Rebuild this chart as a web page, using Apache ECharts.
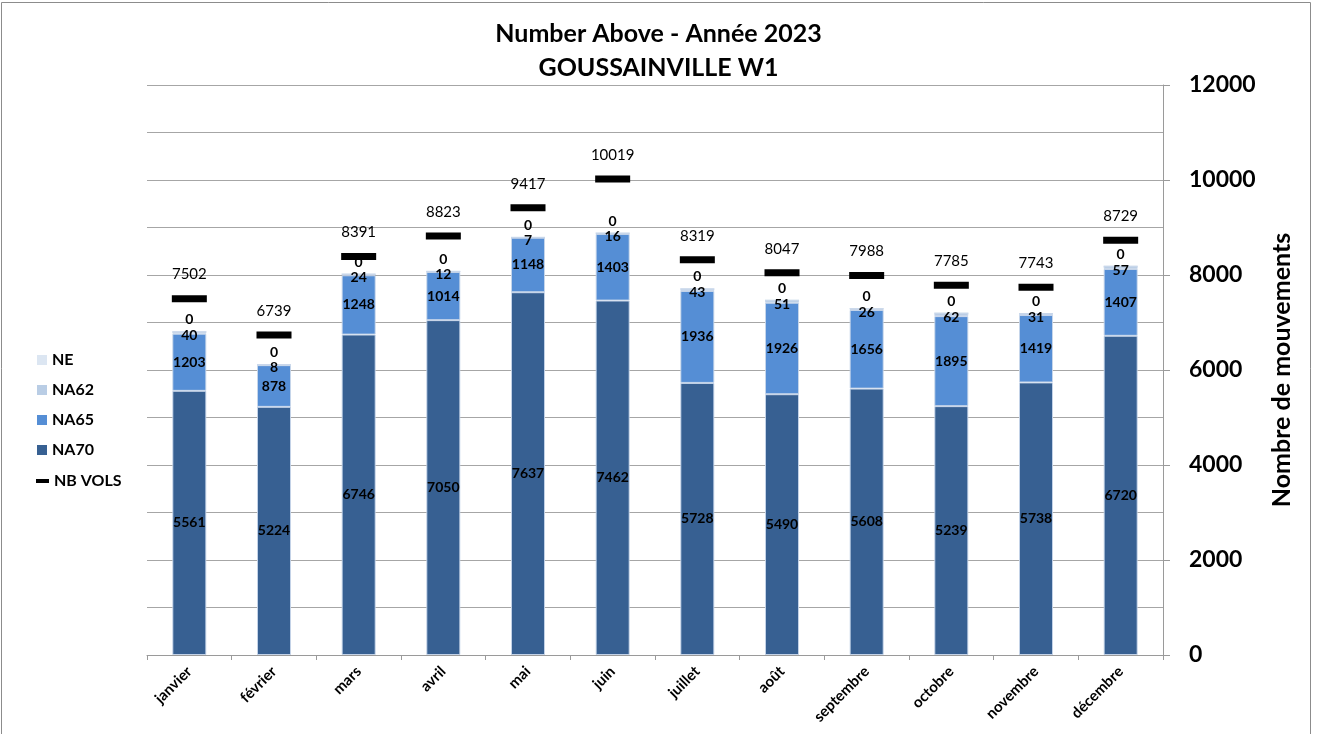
<!DOCTYPE html>
<html>
<head>
<meta charset="utf-8">
<script src="https://cdn.jsdelivr.net/npm/echarts@6/dist/echarts.min.js"></script>
<style>
  html, body { margin: 0; padding: 0; background: #fff; }
  #chart { width: 1317px; height: 734px; }
</style>
</head>
<body>
<div id="chart"></div>
<script>
// Months of 2023
const months = ['janvier', 'février', 'mars', 'avril', 'mai', 'juin', 'juillet', 'août', 'septembre', 'octobre', 'novembre', 'décembre'];

// Stacked components (movements per noise threshold)
const na70 = [5561, 5224, 6746, 7050, 7637, 7462, 5728, 5490, 5608, 5239, 5738, 6720];
const na65 = [1203, 878, 1248, 1014, 1148, 1403, 1936, 1926, 1656, 1895, 1419, 1407];
const na62 = [40, 8, 24, 12, 7, 16, 43, 51, 26, 62, 31, 57];
const ne = [0, 0, 0, 0, 0, 0, 0, 0, 0, 0, 0, 0];

// Total flights per month
const nbVols = [7502, 6739, 8391, 8823, 9417, 10019, 8319, 8047, 7988, 7785, 7743, 8729];

const FONT = 'Lato, "Open Sans", sans-serif';
const colors = { ne: '#dce6f2', na62: '#b9cde5', na65: '#558ed5', na70: '#376092' };

const barLabel = {
  show: true,
  position: 'inside',
  color: '#000',
  fontFamily: FONT,
  fontWeight: 'bold',
  fontSize: 14
};

const barSeries = (name, data, color, dy) => ({
  name: name,
  type: 'bar',
  stack: 'total',
  barWidth: 34,
  data: data,
  itemStyle: { color: color, borderColor: 'rgba(200,214,234,0.9)', borderWidth: 1 },
  label: barLabel,
  labelLayout: { hideOverlap: false, dy: dy },
  z: 2
});

const legendText = { fontFamily: FONT, fontWeight: 'bold', fontSize: 16, lineHeight: 16, color: '#000' };

const chart = echarts.init(document.getElementById('chart'), null, { renderer: 'canvas' });

chart.setOption({
  backgroundColor: '#fff',
  animation: false,
  title: {
    text: 'Number Above - Année 2023\nGOUSSAINVILLE W1',
    left: 'center',
    top: 12,
    textStyle: {
      fontFamily: FONT,
      fontWeight: 'bold',
      fontSize: 25,
      lineHeight: 34,
      color: '#000'
    }
  },
  legend: [
    {
      orient: 'vertical',
      left: 32,
      top: 347,
      icon: 'rect',
      itemWidth: 10,
      itemHeight: 10,
      itemGap: 14,
      itemStyle: { borderWidth: 0 },
      data: ['NE', 'NA62', 'NA65', 'NA70'],
      textStyle: legendText
    },
    {
      orient: 'vertical',
      left: 31,
      top: 468,
      icon: 'rect',
      itemWidth: 13,
      itemHeight: 4,
      itemStyle: { borderWidth: 0 },
      data: ['NB VOLS'],
      textStyle: legendText
    }
  ],
  grid: { left: 147, right: 154, top: 85, bottom: 79 },
  xAxis: {
    type: 'category',
    data: months,
    axisLine: { lineStyle: { color: '#9a9a9a', width: 1 } },
    axisTick: { show: true, length: 5, lineStyle: { color: '#9a9a9a' } },
    axisLabel: {
      rotate: 45,
      margin: 14,
      color: '#000',
      fontFamily: FONT,
      fontWeight: 'bold',
      fontSize: 15
    }
  },
  yAxis: {
    type: 'value',
    position: 'right',
    min: 0,
    max: 12000,
    interval: 2000,
    name: 'Nombre de mouvements',
    nameLocation: 'middle',
    nameRotate: 90,
    nameGap: 106,
    nameTextStyle: { fontFamily: FONT, fontWeight: 'bold', fontSize: 25, color: '#000' },
    axisLine: { show: true, lineStyle: { color: '#9a9a9a', width: 1 } },
    axisTick: { show: true, inside: false, length: 7, lineStyle: { color: '#9a9a9a' } },
    axisLabel: {
      margin: 26,
      color: '#000',
      fontFamily: FONT,
      fontWeight: 'bold',
      fontSize: 23,
      formatter: (v) => String(v)
    },
    splitLine: { show: true, lineStyle: { color: '#a6a6a6', width: 1 } },
    minorTick: { show: false, splitNumber: 2 },
    minorSplitLine: { show: true, lineStyle: { color: '#a6a6a6', width: 1 } }
  },
  series: [
    barSeries('NA70', na70, colors.na70, 0),
    barSeries('NA65', na65, colors.na65, 0),
    barSeries('NA62', na62, colors.na62, 3),
    barSeries('NE', ne, colors.ne, -12),
    {
      name: 'NB VOLS',
      type: 'scatter',
      data: nbVols,
      symbol: 'rect',
      symbolSize: [35, 7],
      itemStyle: { color: '#000', opacity: 1 },
      label: {
        show: true,
        position: 'top',
        distance: 13,
        color: '#000',
        fontFamily: FONT,
        fontWeight: 'normal',
        fontSize: 15
      },
      labelLayout: { hideOverlap: false },
      z: 5
    }
  ],
  graphic: [
    {
      type: 'rect',
      silent: true,
      shape: { x: 1.5, y: 2.5, width: 1309, height: 740 },
      style: { fill: 'none', stroke: '#8c8c8c', lineWidth: 1 }
    }
  ]
});
</script>
</body>
</html>
